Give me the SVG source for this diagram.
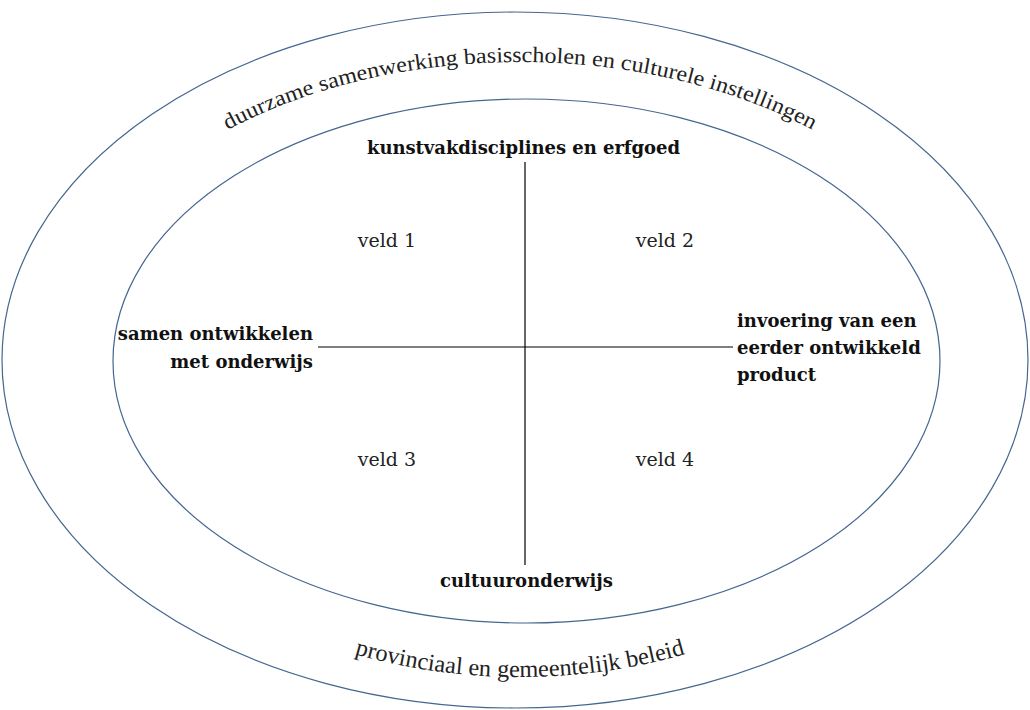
<svg xmlns="http://www.w3.org/2000/svg" width="1030" height="710" viewBox="0 0 1030 710">
<style>
.ring{fill:none;stroke:#44668f;stroke-width:1.2}
.axis{stroke:#000;stroke-width:1.2}
.lbl{font-family:"DejaVu Serif","Liberation Serif",serif;font-size:18px;font-weight:bold;fill:#111}
.veld{font-family:"DejaVu Serif","Liberation Serif",serif;font-size:19px;fill:#222}
.arc{font-family:"Liberation Serif","DejaVu Serif",serif;font-size:22px;fill:#222}
.arcb{font-family:"Liberation Serif","DejaVu Serif",serif;font-size:24px;fill:#222}
</style>
<defs>
<path id="topArc" d="M 60 360 A 460 298 0 0 1 980 360"/>
<path id="botArc" d="M 78 360 A 442 317 0 0 0 962 360"/>
</defs>
<g id="outer-ring">
<ellipse class="ring" cx="515" cy="360" rx="513" ry="348"/>
<text class="arc"><textPath href="#topArc" startOffset="50%" text-anchor="middle" textLength="606" lengthAdjust="spacingAndGlyphs">duurzame samenwerking basisscholen en culturele instellingen</textPath></text>
<text class="arcb"><textPath href="#botArc" startOffset="50%" text-anchor="middle" textLength="335" lengthAdjust="spacingAndGlyphs">provinciaal en gemeentelijk beleid</textPath></text>
</g>
<g id="inner-ring">
<ellipse class="ring" cx="526.5" cy="361" rx="413.5" ry="262"/>
</g>
<g id="connectors">
<line class="axis" x1="525" y1="162" x2="525" y2="565"/>
<line class="axis" x1="318" y1="347" x2="733" y2="347"/>
</g>
<g id="top-label"><text class="lbl" x="367" y="154" textLength="313">kunstvakdisciplines en erfgoed</text></g>
<g id="bottom-label"><text class="lbl" x="440" y="587" textLength="173">cultuuronderwijs</text></g>
<g id="left-label"><text class="lbl" text-anchor="end" x="313"><tspan x="313" y="340">samen ontwikkelen</tspan><tspan x="313" y="368">met onderwijs</tspan></text></g>
<g id="right-label"><text class="lbl" x="737"><tspan x="737" y="327">invoering van een</tspan><tspan x="737" y="354">eerder ontwikkeld</tspan><tspan x="737" y="381">product</tspan></text></g>
<g id="veld1"><text class="veld" x="387" y="247" text-anchor="middle">veld 1</text></g>
<g id="veld2"><text class="veld" x="665" y="247" text-anchor="middle">veld 2</text></g>
<g id="veld3"><text class="veld" x="387" y="466" text-anchor="middle">veld 3</text></g>
<g id="veld4"><text class="veld" x="665" y="466" text-anchor="middle">veld 4</text></g>
</svg>
